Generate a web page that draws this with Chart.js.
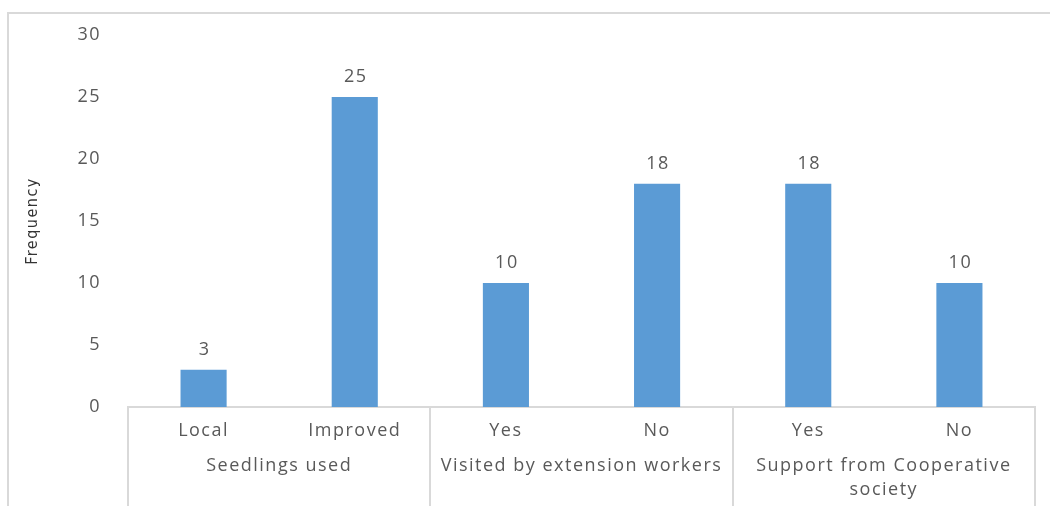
<!DOCTYPE html>
<html>
<head>
<meta charset="utf-8">
<script src="https://cdn.jsdelivr.net/npm/chart.js@4/dist/chart.umd.min.js"></script>
<style>
    html, body { margin: 0; padding: 0; background: #ffffff; overflow: hidden; }
    #wrap { position: relative; width: 1050px; height: 506px; }
    #frame {
        position: absolute; left: 7px; top: 12px; width: 1100px; height: 600px;
        border-left: 2px solid #d9d9d9; border-top: 2px solid #d9d9d9;
        pointer-events: none;
    }
</style>
</head>
<body>
<div id="wrap">
    <canvas id="grafico" width="1050" height="506"></canvas>
    <div id="frame"></div>
</div>
<script>
/*global Chart*/

// datos
var categorias = ["Local", "Improved", "Yes", "No", "Yes", "No"];
var grupos = ["Seedlings used", "Visited by extension workers", ["Support from Cooperative", "society"]];
var frecuencias = [3, 25, 10, 18, 18, 10];
var ticksY = [0, 5, 10, 15, 20, 25, 30];

var colorBarra = "#5B9BD5";
var colorTexto = "#595959";
var colorLinea = "#d9d9d9";
var fuente = "'Open Sans', sans-serif";

// el texto del original se ve mas ancho
var espaciado = {
    id: "espaciado",
    beforeDraw: function (chart) {
        "use strict";
        chart.ctx.letterSpacing = "1.5px";
    }
};

// etiquetas encima de cada barra
var etiquetasBarras = {
    id: "etiquetasBarras",
    afterDatasetsDraw: function (chart) {
        "use strict";
        var ctx = chart.ctx;
        var meta = chart.getDatasetMeta(0);
        ctx.save();
        ctx.font = "18px " + fuente;
        ctx.fillStyle = colorTexto;
        ctx.textAlign = "center";
        ctx.textBaseline = "middle";
        meta.data.forEach(function (barra, i) {
            ctx.fillText(String(frecuencias[i]), barra.x + 1, barra.y - 20);
        });
        ctx.restore();
    }
};

// separadores verticales del eje agrupado
var separadores = {
    id: "separadores",
    afterDraw: function (chart) {
        "use strict";
        var ctx = chart.ctx;
        var x = chart.scales.x;
        var posiciones = [
            x.left,
            (x.getPixelForValue(1) + x.getPixelForValue(2)) / 2,
            (x.getPixelForValue(3) + x.getPixelForValue(4)) / 2,
            x.right
        ];
        ctx.save();
        ctx.strokeStyle = colorLinea;
        ctx.lineWidth = 2;
        posiciones.forEach(function (px) {
            ctx.beginPath();
            ctx.moveTo(Math.round(px), x.top);
            ctx.lineTo(Math.round(px), chart.height);
            ctx.stroke();
        });
        ctx.restore();
    }
};

new Chart(document.getElementById("grafico"), {
    type: "bar",
    data: {
        labels: categorias,
        datasets: [{
            label: "Frequency",
            data: frecuencias,
            backgroundColor: colorBarra,
            borderWidth: 0,
            barPercentage: 0.305,
            categoryPercentage: 1
        }]
    },
    options: {
        responsive: false,
        animation: false,
        layout: {
            padding: { top: 35, right: 15, bottom: 0, left: 0 }
        },
        plugins: {
            legend: { display: false },
            tooltip: { enabled: false }
        },
        scales: {
            y: {
                min: 0,
                max: 30,
                afterFit: function (scale) {
                    scale.width = 128;
                },
                afterBuildTicks: function (scale) {
                    scale.ticks = ticksY.map(function (v) {
                        return { value: v };
                    });
                },
                grid: { display: false },
                border: { display: false },
                ticks: {
                    padding: 19,
                    color: colorTexto,
                    font: { family: fuente, size: 18 }
                },
                title: {
                    display: true,
                    text: "Frequency",
                    color: "#333333",
                    padding: { top: 23, bottom: 0 },
                    font: { family: "'DejaVu Sans Condensed', 'Liberation Sans Narrow', sans-serif", size: 16 }
                }
            },
            x: {
                weight: 0,
                afterFit: function (scale) {
                    scale.height = 44;
                },
                grid: {
                    display: true,
                    drawOnChartArea: false,
                    drawTicks: false,
                    color: "rgba(0,0,0,0)"
                },
                border: { display: true, color: colorLinea, width: 2 },
                ticks: {
                    padding: 13,
                    autoSkip: false,
                    maxRotation: 0,
                    color: colorTexto,
                    font: { family: fuente, size: 18 }
                }
            },
            x2: {
                type: "category",
                position: "bottom",
                weight: 1,
                labels: grupos,
                offset: true,
                afterFit: function (scale) {
                    scale.height = 55;
                },
                grid: { display: false, drawTicks: false },
                border: { display: false },
                ticks: {
                    padding: 3,
                    autoSkip: false,
                    maxRotation: 0,
                    color: colorTexto,
                    font: { family: fuente, size: 18, lineHeight: 1.33 }
                }
            }
        }
    },
    plugins: [espaciado, etiquetasBarras, separadores]
});
</script>
</body>
</html>
